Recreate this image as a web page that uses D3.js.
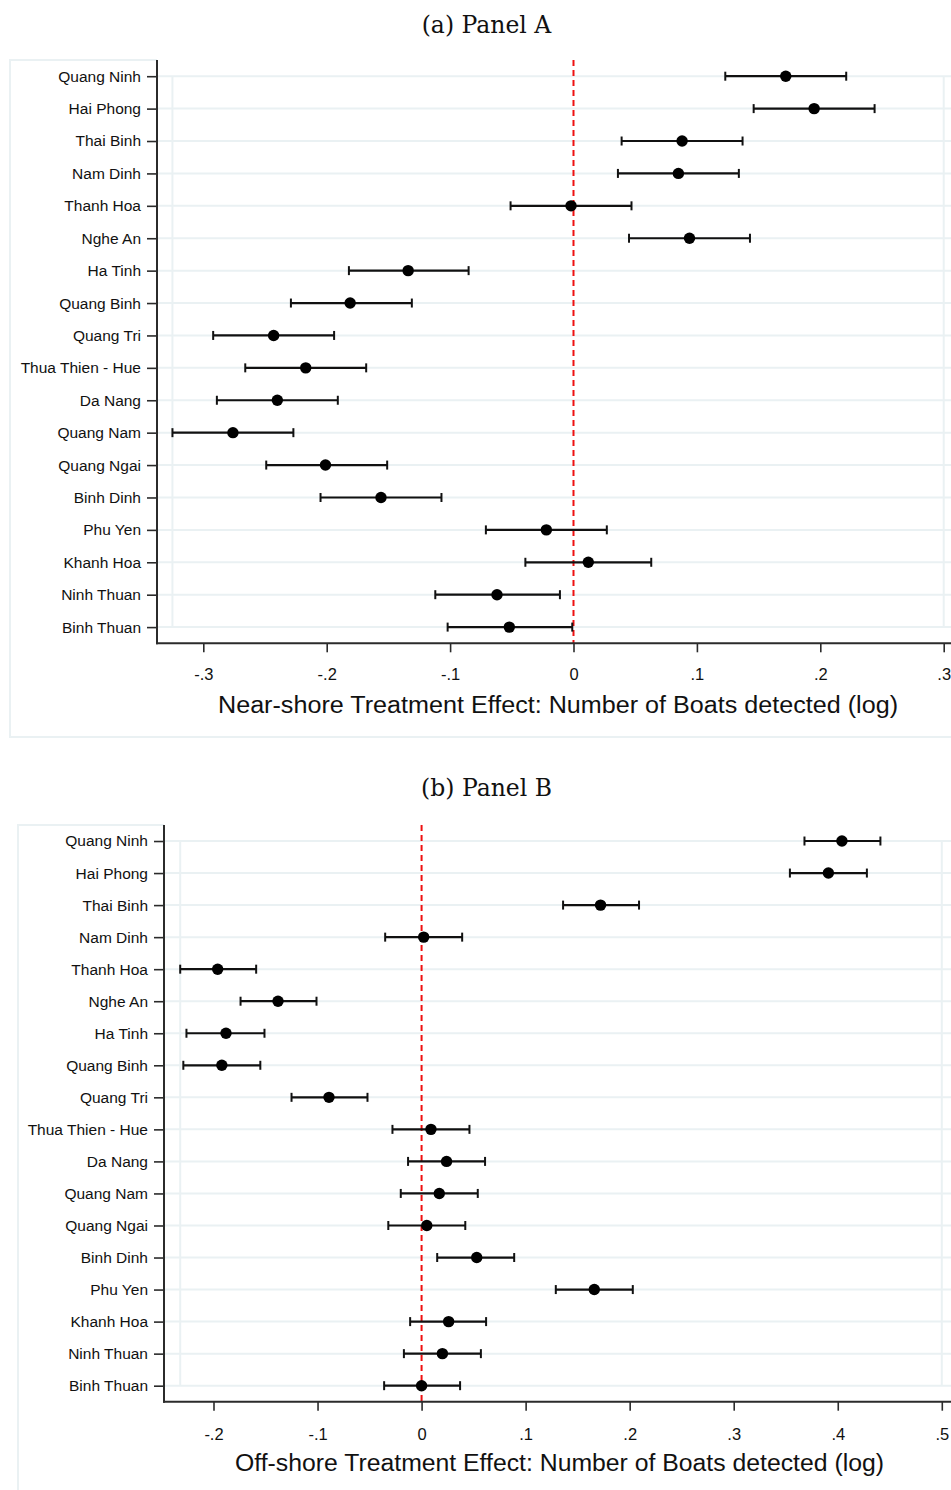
<!DOCTYPE html>
<html>
<head>
<meta charset="utf-8">
<script src="https://cdn.jsdelivr.net/npm/d3@7"></script>
<style>
  html, body { margin: 0; padding: 0; background: #fff; }
  svg { display: block; }
</style>
</head>
<body>
<svg id="chart" width="951" height="1490"></svg>
<script>
// ---------- DATA ----------
const provinces = ["Quang Ninh","Hai Phong","Thai Binh","Nam Dinh","Thanh Hoa","Nghe An","Ha Tinh","Quang Binh","Quang Tri","Thua Thien - Hue","Da Nang","Quang Nam","Quang Ngai","Binh Dinh","Phu Yen","Khanh Hoa","Ninh Thuan","Binh Thuan"];

// Panel A: near-shore
const nearEst = [0.172, 0.195, 0.088, 0.085, -0.002, 0.094, -0.134, -0.181, -0.243, -0.217, -0.240, -0.276, -0.201, -0.156, -0.022, 0.012, -0.062, -0.052];
const nearLo  = [0.123, 0.146, 0.039, 0.036, -0.051, 0.045, -0.182, -0.229, -0.292, -0.266, -0.289, -0.325, -0.249, -0.205, -0.071, -0.039, -0.112, -0.102];
const nearHi  = [0.221, 0.244, 0.137, 0.134, 0.047, 0.143, -0.085, -0.131, -0.194, -0.168, -0.191, -0.227, -0.151, -0.107, 0.027, 0.063, -0.011, -0.001];
const nearTicks = [-0.3, -0.2, -0.1, 0, 0.1, 0.2, 0.3];
const nearTickLabels = ["-.3", "-.2", "-.1", "0", ".1", ".2", ".3"];

// Panel B: off-shore
const offEst = [0.404, 0.391, 0.172, 0.002, -0.196, -0.138, -0.188, -0.192, -0.089, 0.009, 0.024, 0.017, 0.005, 0.053, 0.166, 0.026, 0.020, 0.000];
const offLo  = [0.368, 0.354, 0.136, -0.035, -0.232, -0.174, -0.226, -0.229, -0.125, -0.028, -0.013, -0.020, -0.032, 0.015, 0.129, -0.011, -0.017, -0.036];
const offHi  = [0.441, 0.428, 0.209, 0.039, -0.159, -0.101, -0.151, -0.155, -0.052, 0.046, 0.061, 0.054, 0.042, 0.089, 0.203, 0.062, 0.057, 0.037];
const offTicks = [-0.2, -0.1, 0, 0.1, 0.2, 0.3, 0.4, 0.5];
const offTickLabels = ["-.2", "-.1", "0", ".1", ".2", ".3", ".4", ".5"];

const titles = ["(a) Panel A", "(b) Panel B"];
const axisTitles = ["Near-shore Treatment Effect: Number of Boats detected (log)",
                    "Off-shore Treatment Effect: Number of Boats detected (log)"];

// ---------- LAYOUT ----------
const panels = [
  { est: nearEst, lo: nearLo, hi: nearHi, ticks: nearTicks, tickLabels: nearTickLabels,
    title: titles[0], axisTitle: axisTitles[0],
    titleY: 33, frameLeft: 10, frameTop: 60, frameBottom: 737,
    axisX: 157, yTop: 60, yBottom: 643.3,
    xDomain: [-0.3, 0.3], xRange: [203.3, 943.7], innerX: [-0.325, 0.3],
    tickLabelY: 680, axisTitleY: 713, axisTitleX: 558, axisTitleW: 680 },
  { est: offEst, lo: offLo, hi: offHi, ticks: offTicks, tickLabels: offTickLabels,
    title: titles[1], axisTitle: axisTitles[1],
    titleY: 796, frameLeft: 18, frameTop: 825, frameBottom: 1500,
    axisX: 164, yTop: 825, yBottom: 1401.7,
    xDomain: [-0.2, 0.5], xRange: [213.5, 941.8], innerX: [-0.232, 0.5],
    tickLabelY: 1440, axisTitleY: 1471, axisTitleX: 559.5, axisTitleW: 649 }
];

const W = 951;
const svg = d3.select("#chart");
const gridColor = "#eaf1f3";
const axisColor = "#2b2b2b";
const sansFont = "Arial, 'Liberation Sans', Helvetica, sans-serif";

panels.forEach(p => {
  const g = svg.append("g");
  const x = d3.scaleLinear().domain(p.xDomain).range(p.xRange);
  const y = d3.scalePoint().domain(provinces).range([p.yTop, p.yBottom]).padding(0.5);
  const rows = provinces.map((name, i) => ({ name, est: p.est[i], lo: p.lo[i], hi: p.hi[i] }));

  // Panel title
  g.append("text")
    .attr("x", 486.5).attr("y", p.titleY)
    .attr("text-anchor", "middle")
    .attr("font-family", "'DejaVu Serif', 'Liberation Serif', serif")
    .attr("font-size", 23.5)
    .attr("fill", "#111")
    .text(p.title);

  // Outer graph-region frame (left, bottom, top-left segment)
  g.append("path")
    .attr("d", `M${p.axisX},${p.frameTop} H${p.frameLeft} V${p.frameBottom} H${W + 5}`)
    .attr("fill", "none").attr("stroke", gridColor).attr("stroke-width", 2);

  // Horizontal gridlines at each category
  g.selectAll(".grid").data(provinces).enter().append("line")
    .attr("x1", p.axisX).attr("x2", W + 5)
    .attr("y1", d => y(d)).attr("y2", d => y(d))
    .attr("stroke", gridColor).attr("stroke-width", 2);

  // Inner plot-region outline verticals (data range)
  [p.innerX[0], p.innerX[1]].forEach(v => {
    g.append("line")
      .attr("x1", x(v)).attr("x2", x(v))
      .attr("y1", y(provinces[0])).attr("y2", y(provinces[provinces.length - 1]))
      .attr("stroke", gridColor).attr("stroke-width", 2);
  });

  // Reference line at zero
  g.append("line")
    .attr("x1", x(0)).attr("x2", x(0))
    .attr("y1", p.yTop).attr("y2", p.yBottom)
    .attr("stroke", "#ee1111").attr("stroke-width", 2)
    .attr("stroke-dasharray", "6,4");

  // Error bars
  const eb = g.selectAll(".eb").data(rows).enter().append("g");
  eb.append("line")
    .attr("x1", d => x(d.lo)).attr("x2", d => x(d.hi))
    .attr("y1", d => y(d.name)).attr("y2", d => y(d.name))
    .attr("stroke", "#111").attr("stroke-width", 2.2);
  eb.append("line")
    .attr("x1", d => x(d.lo)).attr("x2", d => x(d.lo))
    .attr("y1", d => y(d.name) - 4.5).attr("y2", d => y(d.name) + 4.5)
    .attr("stroke", "#111").attr("stroke-width", 2);
  eb.append("line")
    .attr("x1", d => x(d.hi)).attr("x2", d => x(d.hi))
    .attr("y1", d => y(d.name) - 4.5).attr("y2", d => y(d.name) + 4.5)
    .attr("stroke", "#111").attr("stroke-width", 2);
  eb.append("circle")
    .attr("cx", d => x(d.est)).attr("cy", d => y(d.name))
    .attr("r", 5.7).attr("fill", "#000");

  // Y axis
  const yAxis = d3.axisLeft(y).tickSize(10).tickSizeOuter(0).tickPadding(6);
  const ya = g.append("g").attr("transform", `translate(${p.axisX},0)`).call(yAxis);
  ya.select(".domain").remove();
  ya.selectAll(".tick line").attr("stroke", axisColor).attr("stroke-width", 1.6);
  ya.selectAll(".tick text")
    .attr("font-family", sansFont).attr("font-size", 15.5).attr("fill", "#111");
  g.append("line")
    .attr("x1", p.axisX).attr("x2", p.axisX)
    .attr("y1", p.yTop).attr("y2", p.yBottom + 1)
    .attr("stroke", axisColor).attr("stroke-width", 2);

  // X axis
  const xAxis = d3.axisBottom(x).tickValues(p.ticks)
    .tickFormat((d, i) => p.tickLabels[i]).tickSize(9).tickSizeOuter(0).tickPadding(6);
  const xa = g.append("g").attr("transform", `translate(0,${p.yBottom})`).call(xAxis);
  xa.select(".domain").remove();
  xa.selectAll(".tick line").attr("stroke", axisColor).attr("stroke-width", 1.6);
  xa.selectAll(".tick text")
    .attr("font-family", sansFont).attr("font-size", 16.5).attr("fill", "#111")
    .attr("dy", null)
    .attr("y", p.tickLabelY - p.yBottom);
  g.append("line")
    .attr("x1", p.axisX - 1).attr("x2", W + 5)
    .attr("y1", p.yBottom).attr("y2", p.yBottom)
    .attr("stroke", axisColor).attr("stroke-width", 2);

  // Axis title
  g.append("text")
    .attr("x", p.axisTitleX).attr("y", p.axisTitleY)
    .attr("text-anchor", "middle")
    .attr("font-family", sansFont).attr("font-size", 23.5).attr("fill", "#111")
    .attr("textLength", p.axisTitleW).attr("lengthAdjust", "spacingAndGlyphs")
    .text(p.axisTitle);
});
</script>
</body>
</html>
